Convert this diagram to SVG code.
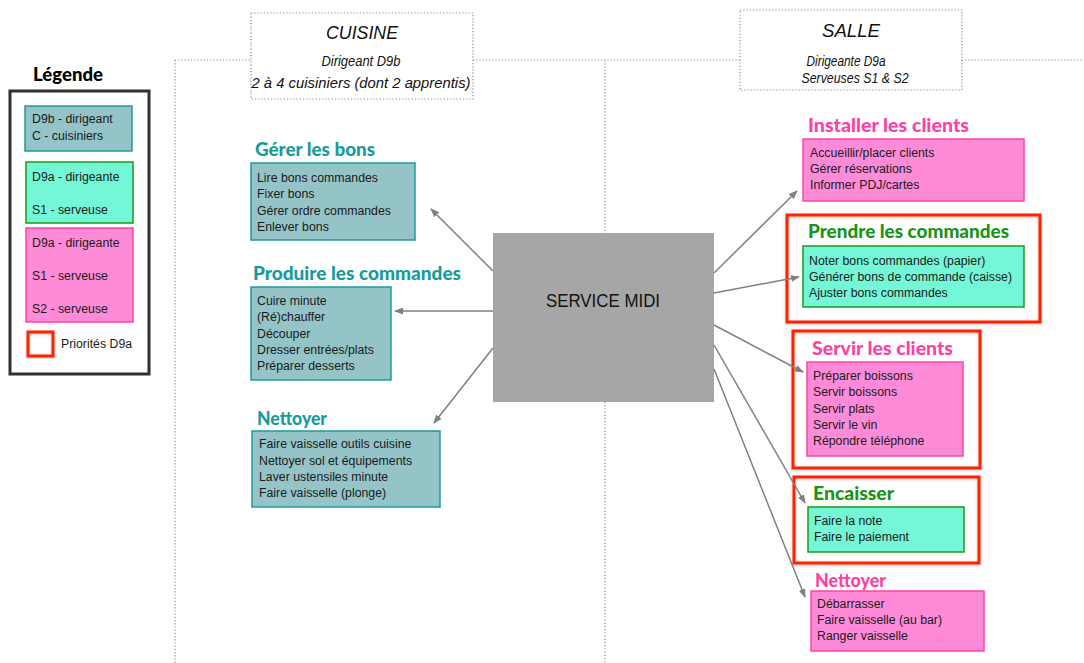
<svg xmlns="http://www.w3.org/2000/svg" width="1084" height="663" viewBox="0 0 1084 663">
<style>
.t{font-family:"Liberation Sans",Arial,sans-serif;font-size:12.3px;fill:#1a1a1a}
.h{font-family:Lato,"Liberation Sans",sans-serif;font-weight:900;font-size:19px}
.ht{fill:#179b9b}
.hp{fill:#ff3fa3}
.hg{fill:#169516}
.bt{fill:#94c4c8;stroke:#1e9a9a;stroke-width:1.5}
.bg{fill:#74f7d6;stroke:#1a9a1a;stroke-width:1.5}
.bp{fill:#ff8ad8;stroke:#ff44a4;stroke-width:1.5}
.rf{fill:none;stroke:#ff2400;stroke-width:3;filter:url(#sh)}
.dot{fill:none;stroke:#8a8a8a;stroke-width:1.2;stroke-dasharray:1.2 2}
.it{font-family:"Liberation Sans",Arial,sans-serif;font-style:italic;fill:#111;text-anchor:middle}
.ar{stroke:#808080;stroke-width:1.5;fill:none;marker-end:url(#ah)}
</style>
<defs>
<marker id="ah" markerWidth="9" markerHeight="7" refX="8" refY="3.5" orient="auto" markerUnits="userSpaceOnUse">
<path d="M0,0 L9,3.5 L0,7 z" fill="#808080"/>
</marker>
<filter id="sh" x="-10%" y="-10%" width="120%" height="120%">
<feGaussianBlur in="SourceAlpha" stdDeviation="1.5"/>
<feOffset dx="0" dy="1" result="b"/>
<feFlood flood-color="#000" flood-opacity="0.25"/>
<feComposite in2="b" operator="in"/>
<feMerge><feMergeNode/><feMergeNode in="SourceGraphic"/></feMerge>
</filter>
</defs>
<rect width="1084" height="663" fill="#fff"/>

<g id="guides">
<path class="dot" d="M175,60 H251 M473,60 H740 M962,60 H1084 M175,60 V663 M605,60 V233 M605,402 V663"/>
</g>

<g id="legend">
<text x="68" y="81" class="h" fill="#000" font-size="18" text-anchor="middle" textLength="70" lengthAdjust="spacingAndGlyphs">Légende</text>
<rect x="10" y="91" width="139" height="283" fill="#fff" stroke="#332f2a" stroke-width="3"/>
<rect x="25" y="106" width="107" height="45" class="bt"/>
<text x="32" y="123" class="t">D9b - dirigeant</text>
<text x="32" y="140" class="t">C - cuisiniers</text>
<rect x="26" y="162" width="107" height="61" class="bg"/>
<text x="32" y="181" class="t">D9a - dirigeante</text>
<text x="32" y="214" class="t">S1 - serveuse</text>
<rect x="26" y="228" width="107" height="94" class="bp"/>
<text x="32" y="247" class="t">D9a - dirigeante</text>
<text x="32" y="280" class="t">S1 - serveuse</text>
<text x="32" y="313" class="t">S2 - serveuse</text>
<rect x="28" y="332" width="25" height="24" class="rf" fill="#fff"/>
<text x="61" y="348" class="t" font-size="12">Priorités D9a</text>
</g>

<g id="cuisine-header">
<rect x="251" y="13" width="222" height="86" fill="#fff" class="dot"/>
<text x="362" y="39" class="it" font-size="19" textLength="72" lengthAdjust="spacingAndGlyphs">CUISINE</text>
<text x="361" y="66" class="it" font-size="14" textLength="79" lengthAdjust="spacingAndGlyphs">Dirigeant D9b</text>
<text x="361" y="88" class="it" font-size="14" textLength="219" lengthAdjust="spacingAndGlyphs">2 à 4 cuisiniers (dont 2 apprentis)</text>
</g>

<g id="salle-header">
<rect x="740" y="10" width="222" height="80" fill="#fff" class="dot"/>
<text x="851" y="37" class="it" font-size="19" textLength="58" lengthAdjust="spacingAndGlyphs">SALLE</text>
<text x="846" y="66" class="it" font-size="14" textLength="79" lengthAdjust="spacingAndGlyphs">Dirigeante D9a</text>
<text x="855" y="83" class="it" font-size="14" textLength="107" lengthAdjust="spacingAndGlyphs">Serveuses S1 &amp; S2</text>
</g>

<g id="service-midi">
<rect x="493" y="233" width="221" height="169" fill="#a6a6a6"/>
<text x="603" y="307" font-family="Liberation Sans,Arial,sans-serif" font-size="18" fill="#111" text-anchor="middle" textLength="114" lengthAdjust="spacingAndGlyphs">SERVICE MIDI</text>
</g>

<g id="gerer-bons">
<text x="255" y="156" class="h ht" textLength="120" lengthAdjust="spacingAndGlyphs">Gérer les bons</text>
<rect x="251" y="163" width="164" height="77" class="bt"/>
<text x="257" y="182" class="t">Lire bons commandes</text>
<text x="257" y="198" class="t">Fixer bons</text>
<text x="257" y="215" class="t">Gérer ordre commandes</text>
<text x="257" y="231" class="t">Enlever bons</text>
</g>

<g id="produire-commandes">
<text x="253" y="280" class="h ht" textLength="208" lengthAdjust="spacingAndGlyphs">Produire les commandes</text>
<rect x="251" y="287" width="140" height="93" class="bt"/>
<text x="257" y="305" class="t">Cuire minute</text>
<text x="257" y="321" class="t">(Ré)chauffer</text>
<text x="257" y="338" class="t">Découper</text>
<text x="257" y="354" class="t">Dresser entrées/plats</text>
<text x="257" y="370" class="t">Préparer desserts</text>
</g>

<g id="nettoyer-cuisine">
<text x="257" y="425" class="h ht" textLength="70" lengthAdjust="spacingAndGlyphs">Nettoyer</text>
<rect x="252" y="431" width="188" height="76" class="bt"/>
<text x="259" y="448" class="t">Faire vaisselle outils cuisine</text>
<text x="259" y="465" class="t">Nettoyer sol et équipements</text>
<text x="259" y="481" class="t">Laver ustensiles minute</text>
<text x="259" y="497" class="t">Faire vaisselle (plonge)</text>
</g>

<g id="installer-clients">
<text x="808" y="132" class="h hp" textLength="161" lengthAdjust="spacingAndGlyphs">Installer les clients</text>
<rect x="803" y="139" width="221" height="62" class="bp"/>
<text x="810" y="157" class="t">Accueillir/placer clients</text>
<text x="810" y="173" class="t">Gérer réservations</text>
<text x="810" y="189" class="t">Informer PDJ/cartes</text>
</g>

<g id="prendre-commandes">
<rect x="787" y="215" width="253" height="107" class="rf"/>
<text x="808" y="238" class="h hg" textLength="201" lengthAdjust="spacingAndGlyphs">Prendre les commandes</text>
<rect x="803" y="246" width="221" height="61" class="bg"/>
<text x="809" y="265" class="t">Noter bons commandes (papier)</text>
<text x="809" y="281" class="t">Générer bons de commande (caisse)</text>
<text x="809" y="297" class="t">Ajuster bons commandes</text>
</g>

<g id="servir-clients">
<rect x="793" y="331" width="187" height="137" class="rf"/>
<text x="812" y="355" class="h hp" textLength="141" lengthAdjust="spacingAndGlyphs">Servir les clients</text>
<rect x="807" y="362" width="156" height="94" class="bp"/>
<text x="813" y="380" class="t">Préparer boissons</text>
<text x="813" y="396" class="t">Servir boissons</text>
<text x="813" y="413" class="t">Servir plats</text>
<text x="813" y="429" class="t">Servir le vin</text>
<text x="813" y="445" class="t">Répondre téléphone</text>
</g>

<g id="encaisser">
<rect x="794" y="477" width="185" height="86" class="rf"/>
<text x="813" y="500" class="h hg" textLength="81" lengthAdjust="spacingAndGlyphs">Encaisser</text>
<rect x="808" y="507" width="156" height="45" class="bg"/>
<text x="814" y="525" class="t">Faire la note</text>
<text x="814" y="541" class="t">Faire le paiement</text>
</g>

<g id="nettoyer-salle">
<text x="815" y="587" class="h hp" textLength="71" lengthAdjust="spacingAndGlyphs">Nettoyer</text>
<rect x="811" y="591" width="173" height="60" class="bp"/>
<text x="817" y="608" class="t">Débarrasser</text>
<text x="817" y="624" class="t">Faire vaisselle (au bar)</text>
<text x="817" y="640" class="t">Ranger vaisselle</text>
</g>

<g id="connectors">
<line class="ar" x1="493" y1="271" x2="431" y2="209"/>
<line class="ar" x1="493" y1="311" x2="395" y2="311"/>
<line class="ar" x1="493" y1="348" x2="434" y2="423"/>
<line class="ar" x1="714" y1="273" x2="797" y2="191"/>
<line class="ar" x1="714" y1="293" x2="799" y2="277"/>
<line class="ar" x1="714" y1="325" x2="803" y2="372"/>
<line class="ar" x1="714" y1="345" x2="805" y2="503"/>
<line class="ar" x1="714" y1="369" x2="805" y2="597"/>
</g>
</svg>
